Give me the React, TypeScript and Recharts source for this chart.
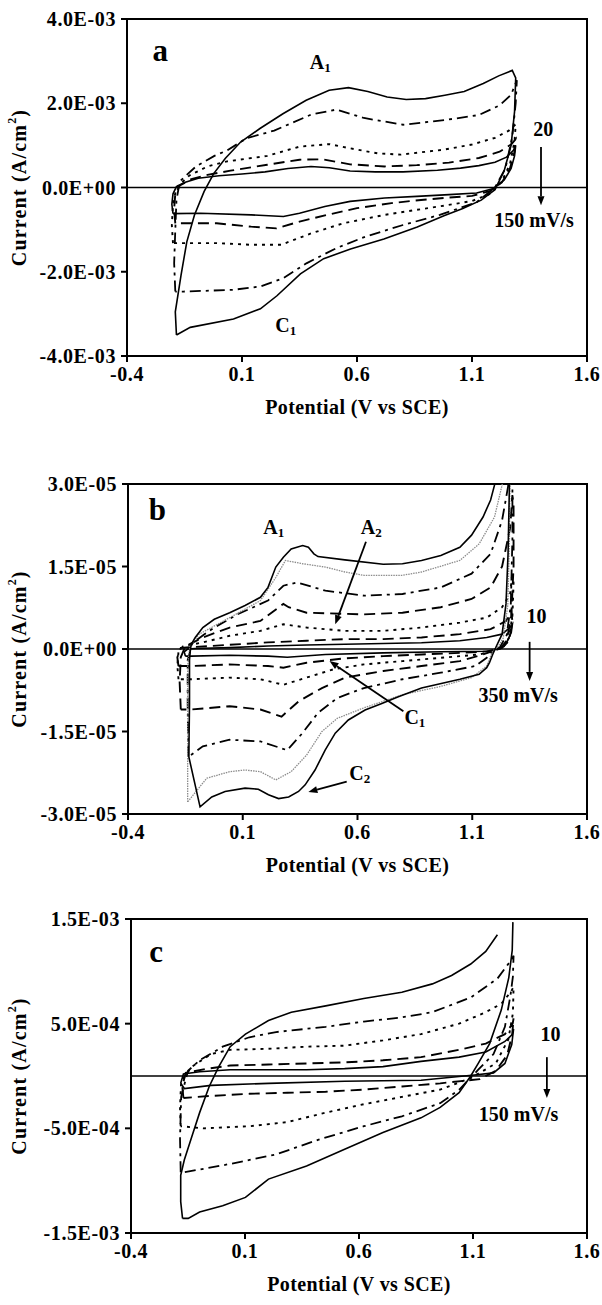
import React from "react";
import { LineChart, Line, XAxis, YAxis, ReferenceLine, ReferenceDot, ReferenceArea, Label } from "recharts";

type Pt = [number, number | null];

const potentialTicks = [-0.4, 0.1, 0.6, 1.1, 1.6];

// panel a: current in 1E-03 A/cm2, scan rates 20 -> 150 mV/s
const aTicks = [-4, -2, 0, 2, 4];
const aScan20: Pt[] = [
  [-0.2, -0.62], [-0.205, -0.4], [-0.2, -0.15], [-0.185, 0.02], [-0.15, 0.12], [-0.09, 0.22], [0.0, 0.28],
  [0.1, 0.32], [0.2, 0.37], [0.3, 0.45], [0.4, 0.5], [0.48, 0.47], [0.57, 0.39], [0.68, 0.37], [0.8, 0.37],
  [0.95, 0.41], [1.05, 0.46], [1.13, 0.52], [1.2, 0.6], [1.25, 0.72], [1.28, 0.88], [1.29, 1.0],
  [1.285, 0.75], [1.27, 0.45], [1.24, 0.18], [1.19, -0.03], [1.12, -0.13], [1.0, -0.17], [0.86, -0.21],
  [0.72, -0.25], [0.57, -0.33], [0.46, -0.45], [0.35, -0.61], [0.28, -0.69], [0.14, -0.65], [-0.08, -0.61], [-0.2, -0.62],
];
const aScan40: Pt[] = [
  [-0.19, -0.85], [-0.195, -0.5], [-0.19, -0.15], [-0.17, 0.05], [-0.12, 0.2], [-0.05, 0.3], [0.05, 0.4],
  [0.21, 0.54], [0.35, 0.66], [0.45, 0.67], [0.57, 0.55], [0.72, 0.5], [0.86, 0.53], [1.0, 0.59], [1.13, 0.7],
  [1.22, 0.85], [1.27, 1.02], [1.29, 1.15],
  [1.285, 0.85], [1.265, 0.45], [1.23, 0.12], [1.18, -0.08], [1.1, -0.2], [1.0, -0.24], [0.89, -0.29],
  [0.75, -0.37], [0.6, -0.49], [0.47, -0.65], [0.35, -0.81], [0.25, -0.97], [0.14, -0.93], [-0.01, -0.85], [-0.19, -0.85],
];
const aScan60: Pt[] = [
  [-0.2, -1.32], [-0.205, -0.9], [-0.2, -0.4], [-0.185, 0.0], [-0.13, 0.28], [-0.05, 0.5], [0.035, 0.62],
  [0.21, 0.75], [0.35, 0.97], [0.48, 1.03], [0.57, 0.93], [0.69, 0.81], [0.79, 0.78], [0.98, 0.9], [1.1, 1.02],
  [1.2, 1.18], [1.26, 1.35], [1.29, 1.5],
  [1.285, 1.1], [1.265, 0.55], [1.23, 0.15], [1.18, -0.15], [1.1, -0.32], [0.98, -0.43], [0.86, -0.53],
  [0.72, -0.65], [0.54, -0.85], [0.4, -1.09], [0.27, -1.36], [0.14, -1.36], [-0.01, -1.32], [-0.2, -1.32],
];
const aScan100: Pt[] = [
  [-0.19, -2.47], [-0.195, -1.8], [-0.19, -1.0], [-0.185, -0.3], [-0.17, 0.15], [-0.1, 0.5], [-0.02, 0.75],
  [0.035, 0.88], [0.12, 1.17], [0.24, 1.35], [0.4, 1.73], [0.51, 1.85], [0.63, 1.65], [0.8, 1.49], [0.98, 1.6],
  [1.13, 1.72], [1.22, 1.95], [1.27, 2.2], [1.295, 2.55],
  [1.29, 2.0], [1.275, 1.2], [1.245, 0.45], [1.2, 0.0], [1.12, -0.35], [0.96, -0.65], [0.8, -0.89],
  [0.64, -1.16], [0.51, -1.44], [0.38, -1.8], [0.28, -2.15], [0.18, -2.35], [0.06, -2.43], [-0.155, -2.47], [-0.19, -2.47],
];
const aScan150: Pt[] = [
  [-0.185, -3.5], [-0.19, -2.95], [-0.165, -2.08], [-0.14, -1.29], [-0.107, -0.66], [-0.065, -0.1], [-0.023, 0.33],
  [0.027, 0.69], [0.094, 1.08], [0.178, 1.4], [0.278, 1.75], [0.379, 2.07], [0.479, 2.31], [0.563, 2.37],
  [0.647, 2.28], [0.731, 2.15], [0.814, 2.09], [0.898, 2.11], [0.982, 2.19], [1.066, 2.28], [1.149, 2.47],
  [1.216, 2.65], [1.275, 2.78],
  [1.29, 2.6], [1.285, 1.8], [1.27, 1.0], [1.24, 0.4], [1.2, -0.05], [1.14, -0.3], [1.06, -0.5], [0.978, -0.67],
  [0.862, -0.94], [0.717, -1.22], [0.572, -1.46], [0.455, -1.69], [0.354, -2.05], [0.252, -2.57], [0.18, -2.88],
  [0.063, -3.12], [-0.125, -3.32], [-0.185, -3.5],
];

// panel b: current in 1E-06 A/cm2, scan rates 10 -> 350 mV/s
const bTicks = [-30, -15, 0, 15, 30];
const bScan10: Pt[] = [
  [-0.15, -1.3], [-0.155, -0.5], [-0.14, 0.0], [-0.107, 0.1], [0.043, 0.25], [0.21, 0.55], [0.378, 0.73],
  [0.545, 0.85], [0.712, 1.0], [0.879, 1.15], [1.046, 1.5], [1.163, 2.1], [1.23, 2.7], [1.264, 3.9], [1.275, 4.5],
  [1.27, 3.0], [1.25, 1.2], [1.22, 0.1], [1.163, -0.4], [0.963, -0.5], [0.712, -0.7], [0.46, -1.0], [0.294, -1.5],
  [0.21, -1.3], [0.043, -1.15], [-0.124, -1.3], [-0.15, -1.3],
];
const bScan20: Pt[] = [
  [-0.18, -3.1], [-0.185, -1.5], [-0.17, 0.2], [-0.04, 0.55], [0.21, 1.2], [0.378, 1.5], [0.545, 1.8],
  [0.712, 1.8], [0.879, 2.1], [1.046, 2.7], [1.18, 3.6], [1.247, 5.1], [1.27, 7.0],
  [1.275, 5.0], [1.26, 1.5], [1.23, 0.2], [1.18, -0.4], [1.046, -0.7], [0.879, -1.0], [0.712, -1.3],
  [0.545, -1.7], [0.378, -2.5], [0.277, -3.4], [0.21, -3.1], [0.043, -2.8], [-0.124, -3.1], [-0.18, -3.1],
];
const bScan50: Pt[] = [
  [-0.18, -5.5], [-0.185, -3.0], [-0.18, -0.5], [-0.16, 0.5], [-0.074, 1.2], [0.043, 2.4], [0.177, 3.3],
  [0.277, 4.5], [0.378, 3.9], [0.545, 3.3], [0.712, 3.3], [0.879, 3.9], [1.046, 4.8], [1.163, 5.7], [1.23, 7.6],
  [1.265, 10.0], [1.275, 14.0],
  [1.28, 12.0], [1.275, 6.0], [1.26, 2.0], [1.235, 0.3], [1.189, -0.4], [1.13, -1.0], [0.963, -1.6], [0.796, -2.2],
  [0.628, -2.8], [0.495, -3.7], [0.378, -5.2], [0.277, -6.5], [0.177, -5.5], [0.043, -5.2], [-0.124, -5.5], [-0.18, -5.5],
];
const bScan100: Pt[] = [
  [-0.17, -11.0], [-0.175, -6.0], [-0.17, -1.5], [-0.15, 0.5], [-0.074, 2.1], [0.043, 3.9], [0.177, 5.1],
  [0.277, 8.2], [0.3, 7.6], [0.378, 6.6], [0.46, 6.5], [0.628, 6.3], [0.796, 6.6], [0.963, 7.6], [1.097, 9.1],
  [1.18, 11.2], [1.23, 15.0], [1.265, 22.0], [1.275, 28.0],
  [1.28, 26.0], [1.28, 15.0], [1.27, 6.0], [1.25, 1.5], [1.22, 0.0], [1.189, -0.4], [1.147, -1.0], [1.046, -2.2],
  [0.879, -3.1], [0.712, -4.0], [0.545, -5.2], [0.445, -7.1], [0.344, -9.5], [0.269, -12.3], [0.177, -11.0],
  [0.043, -10.4], [-0.124, -11.0], [-0.17, -11.0],
];
const bScan200: Pt[] = [
  [-0.137, -19.6], [-0.14, -10.0], [-0.14, -2.0], [-0.12, 1.0], [-0.07, 2.6], [-0.024, 3.9], [0.077, 6.3],
  [0.21, 8.8], [0.277, 11.5], [0.336, 12.1], [0.46, 10.6], [0.628, 9.7], [0.796, 10.0], [0.963, 11.2],
  [1.097, 13.7], [1.18, 17.3], [1.23, 23.4], [1.256, 29.5], [1.265, 34.0],
  [1.275, 34.0], [1.275, 20.0], [1.268, 8.0], [1.25, 2.5], [1.22, 0.3], [1.189, -0.4], [1.163, -1.6],
  [1.113, -3.1], [0.963, -4.3], [0.796, -5.5], [0.628, -7.1], [0.512, -8.9], [0.428, -11.6], [0.36, -15.3],
  [0.294, -18.4], [0.177, -16.8], [0.043, -16.5], [-0.074, -17.7], [-0.137, -19.6],
];
const bScan300: Pt[] = [
  [-0.14, -27.8], [-0.14, -15.0], [-0.14, -3.0], [-0.13, 0.5], [-0.09, 2.7], [0.043, 5.7], [0.177, 8.8],
  [0.244, 13.0], [0.286, 16.1], [0.361, 15.5], [0.46, 14.9], [0.545, 14.0], [0.628, 13.4], [0.796, 13.4],
  [0.879, 14.0], [1.046, 16.1], [1.13, 19.1], [1.197, 24.0], [1.23, 29.8], [1.25, 36.0],
  [1.265, 36.0], [1.262, 20.0], [1.255, 8.0], [1.235, 2.0], [1.214, 0.5], [1.189, -0.4], [1.163, -3.1],
  [1.097, -5.2], [0.963, -6.8], [0.796, -8.3], [0.628, -10.7], [0.512, -12.6], [0.445, -15.0], [0.378, -19.3],
  [0.311, -22.3], [0.244, -23.8], [0.177, -22.3], [0.11, -22.0], [0.043, -22.3], [-0.057, -23.5], [-0.14, -27.8],
];
const bScan350: Pt[] = [
  [-0.135, -19.6], [-0.132, -10.0], [-0.132, -2.0], [-0.128, 0.0], [-0.124, 0.85], [-0.107, 2.1], [-0.074, 3.9],
  [-0.024, 5.4], [0.043, 6.6], [0.11, 7.9], [0.177, 9.4], [0.21, 11.2], [0.244, 14.9], [0.277, 16.7],
  [0.311, 18.2], [0.361, 18.8], [0.386, 18.5], [0.41, 17.3], [0.428, 16.8], [0.545, 16.2], [0.712, 15.4],
  [0.796, 15.5], [0.879, 16.1], [0.963, 17.0], [1.046, 18.5], [1.097, 20.7], [1.147, 24.0], [1.18, 27.1],
  [1.197, 29.8], [1.214, 32.6], [1.24, 38.0],
  [1.262, 36.0], [1.262, 29.8], [1.256, 17.3], [1.247, 8.2], [1.23, 2.7], [1.205, 0.5], [1.189, -1.0],
  [1.175, -2.5], [1.163, -3.4], [1.13, -4.6], [1.046, -5.5], [0.879, -7.1], [0.778, -8.7], [0.706, -9.9],
  [0.633, -11.1], [0.56, -12.9], [0.503, -15.3], [0.459, -18.4], [0.415, -22.0], [0.372, -24.7], [0.343, -25.9],
  [0.3, -26.9], [0.256, -27.2], [0.212, -26.5], [0.168, -25.5], [0.11, -25.3], [0.023, -25.9], [-0.035, -26.9],
  [-0.086, -28.7], [-0.135, -19.6],
];

// panel c: current in 1E-03 A/cm2, scan rates 10 -> 150 mV/s
const cTicks = [-1.5, -0.5, 0.5, 1.5];
const cScan10: Pt[] = [
  [-0.182, -0.07], [-0.17, 0.02], [-0.099, 0.04], [0.035, 0.06], [0.203, 0.06], [0.37, 0.06], [0.537, 0.07],
  [0.705, 0.09], [0.872, 0.14], [1.039, 0.18], [1.156, 0.23], [1.24, 0.33], [1.274, 0.4], [1.278, 0.45],
  [1.27, 0.3], [1.24, 0.12], [1.19, 0.03], [1.106, 0.01], [0.872, -0.04], [0.537, -0.05], [0.203, -0.07],
  [-0.049, -0.09], [-0.166, -0.12], [-0.182, -0.07],
];
const cScan40: Pt[] = [
  [-0.17, -0.21], [-0.175, -0.1], [-0.16, 0.03], [-0.065, 0.07], [0.035, 0.1], [0.203, 0.11], [0.37, 0.12],
  [0.537, 0.13], [0.705, 0.15], [0.872, 0.18], [1.039, 0.25], [1.156, 0.31], [1.24, 0.4], [1.274, 0.5], [1.278, 0.55],
  [1.272, 0.4], [1.25, 0.2], [1.2, 0.05], [1.13, -0.03], [0.956, -0.07], [0.788, -0.1], [0.621, -0.13],
  [0.454, -0.15], [0.286, -0.16], [0.119, -0.17], [-0.049, -0.19], [-0.17, -0.21],
];
const cScan60: Pt[] = [
  [-0.182, -0.48], [-0.185, -0.3], [-0.18, -0.05], [-0.132, 0.09], [-0.049, 0.21], [0.035, 0.25], [0.203, 0.26],
  [0.37, 0.28], [0.537, 0.29], [0.705, 0.34], [0.872, 0.4], [1.039, 0.5], [1.156, 0.61], [1.224, 0.69],
  [1.265, 0.8], [1.278, 0.85],
  [1.275, 0.6], [1.255, 0.35], [1.2, 0.12], [1.09, -0.02], [0.956, -0.13], [0.788, -0.2], [0.621, -0.27],
  [0.454, -0.35], [0.286, -0.44], [0.119, -0.48], [-0.082, -0.5], [-0.182, -0.48],
];
const cScan100: Pt[] = [
  [-0.182, -0.92], [-0.185, -0.6], [-0.18, -0.2], [-0.15, 0.05], [-0.099, 0.15], [0.002, 0.28], [0.119, 0.37],
  [0.236, 0.42], [0.454, 0.47], [0.621, 0.52], [0.788, 0.56], [0.922, 0.61], [1.09, 0.75], [1.207, 0.93],
  [1.265, 1.1], [1.278, 1.15],
  [1.275, 0.95], [1.265, 0.78], [1.24, 0.47], [1.19, 0.21], [1.123, 0.06], [1.04, -0.13], [0.956, -0.26],
  [0.788, -0.385], [0.621, -0.48], [0.42, -0.61], [0.236, -0.75], [0.035, -0.84], [-0.166, -0.92], [-0.182, -0.92],
];
const cScan150: Pt[] = [
  [-0.174, -1.36], [-0.182, -1.2], [-0.182, -0.95], [-0.166, -0.8], [-0.132, -0.57], [-0.099, -0.35],
  [-0.057, -0.1], [-0.015, 0.09], [0.035, 0.28], [0.102, 0.4], [0.203, 0.53], [0.303, 0.61], [0.454, 0.67],
  [0.621, 0.74], [0.788, 0.8], [0.922, 0.88], [1.006, 0.96], [1.09, 1.07], [1.156, 1.19], [1.207, 1.35],
  [1.24, null],
  [1.275, 1.47], [1.272, 1.2], [1.257, 0.94], [1.224, 0.63], [1.173, 0.31], [1.123, 0.12], [1.09, 0.0],
  [1.039, -0.16], [0.956, -0.3], [0.872, -0.4], [0.705, -0.54], [0.537, -0.7], [0.37, -0.86], [0.203, -0.985],
  [0.102, -1.16], [0.002, -1.24], [-0.099, -1.3], [-0.149, -1.36], [-0.174, -1.36],
];

const FONT = "'Liberation Serif', 'Times New Roman', serif";

const lineStyles: Record<string, any> = {
  solid: { stroke: "#000", strokeWidth: 1.6 },
  dash: { stroke: "#000", strokeWidth: 1.9, strokeDasharray: "11 6" },
  dot: { stroke: "#000", strokeWidth: 1.9, strokeDasharray: "3 5" },
  dashDot: { stroke: "#000", strokeWidth: 1.8, strokeDasharray: "11 5 3 5" },
  grey: { stroke: "#8c8c8c", strokeWidth: 1.3, strokeDasharray: "1.5 1" },
};

type Series = { name: string; pts: Pt[]; style: string };
type Note = { x: number; y: number; text: string; sub?: string; size?: number };
type Arrow = { from: [number, number]; to: [number, number] };

const toRows = (pts: Pt[]) => pts.map(([x, y]) => ({ x, y }));

function sci(v: number, unitExp: number) {
  const n = v * Math.pow(10, unitExp);
  if (Math.abs(n) < 1e-15) return "0.0E+00";
  const e = Math.floor(Math.log10(Math.abs(n)) + 1e-9);
  const m = n / Math.pow(10, e);
  return `${m.toFixed(1)}E${e < 0 ? "-" : "+"}${String(Math.abs(e)).padStart(2, "0")}`;
}

const tickStyle = { fontFamily: FONT, fontWeight: "bold", fontSize: 20, fill: "#000", letterSpacing: 0.6 };

const noteShape = (n: Note) => (p: any) => (
  <text
    x={p.cx}
    y={p.cy}
    textAnchor="middle"
    dominantBaseline="central"
    fontFamily={FONT}
    fontWeight="bold"
    fontSize={n.size ?? 20}
    fill="#000"
  >
    {n.text}
    {n.sub && (
      <tspan dy={5} fontSize={13}>
        {n.sub}
      </tspan>
    )}
  </text>
);

const arrowShape = (p: any) => {
  const { x1, y1, x2, y2 } = p;
  const ang = Math.atan2(y2 - y1, x2 - x1);
  const len = 9;
  const half = 3.5;
  const bx = x2 - len * Math.cos(ang);
  const by = y2 - len * Math.sin(ang);
  const nx = -Math.sin(ang) * half;
  const ny = Math.cos(ang) * half;
  return (
    <g>
      <line x1={x1} y1={y1} x2={bx} y2={by} stroke="#000" strokeWidth={1.8} />
      <polygon points={`${x2},${y2} ${bx + nx},${by + ny} ${bx - nx},${by - ny}`} fill="#000" />
    </g>
  );
};

type PanelProps = {
  top: number;
  plotHeight: number;
  axisWidth: number;
  yDomain: [number, number];
  yTicks: number[];
  unitExp: number;
  series: Series[];
  notes: Note[];
  arrows: Arrow[];
};

function Panel({ top, plotHeight, axisWidth, yDomain, yTicks, unitExp, series, notes, arrows }: PanelProps) {
  const height = 19 + plotHeight + 70;
  return (
    <div style={{ position: "absolute", left: 0, top }}>
      <LineChart width={602} height={height} margin={{ top: 19, right: 15, left: 0, bottom: 0 }}>
        <XAxis
          dataKey="x"
          type="number"
          domain={[-0.4, 1.6]}
          ticks={potentialTicks}
          interval={0}
          allowDataOverflow
          tickFormatter={(v: number) => v.toFixed(1)}
          height={70}
          stroke="#000"
          strokeWidth={2}
          tickSize={6}
          tickMargin={5}
          tick={tickStyle}
        >
          <Label
            content={(props: any) => {
              const vb = props.viewBox;
              return (
                <text
                  x={vb.x + vb.width / 2}
                  y={vb.y + 58}
                  textAnchor="middle"
                  fontFamily={FONT}
                  fontWeight="bold"
                  fontSize={20}
                  letterSpacing={0.4}
                  fill="#000"
                >
                  Potential (V vs SCE)
                </text>
              );
            }}
          />
        </XAxis>
        <YAxis
          type="number"
          domain={yDomain}
          ticks={yTicks}
          interval={0}
          allowDataOverflow
          width={axisWidth}
          tickFormatter={(v: number) => sci(v, unitExp)}
          stroke="#000"
          strokeWidth={2}
          tickSize={6}
          tickMargin={5}
          tick={tickStyle}
        >
          <Label
            content={(props: any) => {
              const vb = props.viewBox;
              const cx = 19;
              const cy = vb.y + vb.height / 2;
              return (
                <text
                  x={cx}
                  y={cy}
                  transform={`rotate(-90 ${cx} ${cy})`}
                  textAnchor="middle"
                  dominantBaseline="central"
                  fontFamily={FONT}
                  fontWeight="bold"
                  fontSize={20}
                  letterSpacing={1.2}
                  fill="#000"
                >
                  Current (A/cm
                  <tspan dy={-7} fontSize={12}>
                    2
                  </tspan>
                  <tspan dy={7}>)</tspan>
                </text>
              );
            }}
          />
        </YAxis>
        <ReferenceArea x1={-0.4} x2={1.6} y1={yDomain[0]} y2={yDomain[1]} fill="none" stroke="#000" strokeWidth={2} />
        <ReferenceLine y={0} stroke="#000" strokeWidth={1.5} />
        {series.map((s) => (
          <Line
            key={s.name}
            data={toRows(s.pts)}
            dataKey="y"
            type="linear"
            dot={false}
            activeDot={false}
            isAnimationActive={false}
            {...lineStyles[s.style]}
          />
        ))}
        {arrows.map((a, i) => (
          <ReferenceLine
            key={`arrow-${i}`}
            segment={[
              { x: a.from[0], y: a.from[1] },
              { x: a.to[0], y: a.to[1] },
            ]}
            shape={arrowShape}
          />
        ))}
        {notes.map((n, i) => (
          <ReferenceDot key={`note-${i}`} x={n.x} y={n.y} r={0} shape={noteShape(n)} />
        ))}
      </LineChart>
    </div>
  );
}

const aSeries: Series[] = [
  { name: "20", pts: aScan20, style: "solid" },
  { name: "40", pts: aScan40, style: "dash" },
  { name: "60", pts: aScan60, style: "dot" },
  { name: "100", pts: aScan100, style: "dashDot" },
  { name: "150", pts: aScan150, style: "solid" },
];
const bSeries: Series[] = [
  { name: "10", pts: bScan10, style: "solid" },
  { name: "20", pts: bScan20, style: "dash" },
  { name: "50", pts: bScan50, style: "dot" },
  { name: "100", pts: bScan100, style: "dash" },
  { name: "200", pts: bScan200, style: "dashDot" },
  { name: "300", pts: bScan300, style: "grey" },
  { name: "350", pts: bScan350, style: "solid" },
];
const cSeries: Series[] = [
  { name: "10", pts: cScan10, style: "solid" },
  { name: "40", pts: cScan40, style: "dash" },
  { name: "60", pts: cScan60, style: "dot" },
  { name: "100", pts: cScan100, style: "dashDot" },
  { name: "150", pts: cScan150, style: "solid" },
];

const aNotes: Note[] = [
  { x: -0.255, y: 3.25, text: "a", size: 31 },
  { x: 0.44, y: 2.98, text: "A", sub: "1" },
  { x: 0.29, y: -3.26, text: "C", sub: "1" },
  { x: 1.41, y: 1.4, text: "20" },
  { x: 1.37, y: -0.77, text: "150 mV/s" },
];
const aArrows: Arrow[] = [{ from: [1.4, 0.96], to: [1.4, -0.42] }];

const bNotes: Note[] = [
  { x: -0.272, y: 25.3, text: "b", size: 31 },
  { x: 0.235, y: 22.2, text: "A", sub: "1" },
  { x: 0.66, y: 22.2, text: "A", sub: "2" },
  { x: 0.85, y: -12.3, text: "C", sub: "1" },
  { x: 0.61, y: -22.5, text: "C", sub: "2" },
  { x: 1.38, y: 6.0, text: "10" },
  { x: 1.3, y: -8.3, text: "350 mV/s" },
];
const bArrows: Arrow[] = [
  { from: [0.637, 19.5], to: [0.503, 4.5] },
  { from: [0.8, -11.3], to: [0.478, -2.2] },
  { from: [0.553, -24.1], to: [0.386, -26.0] },
  { from: [1.35, 1.3], to: [1.35, -5.8] },
];

const cNotes: Note[] = [
  { x: -0.29, y: 1.19, text: "c", size: 31 },
  { x: 1.44, y: 0.4, text: "10" },
  { x: 1.3, y: -0.36, text: "150 mV/s" },
];
const cArrows: Arrow[] = [{ from: [1.424, 0.18], to: [1.424, -0.21] }];

export default function App() {
  return (
    <div style={{ position: "absolute", left: 0, top: 0, width: 602, height: 1305, background: "#fff" }}>
      <Panel top={0} plotHeight={337} axisWidth={127} yDomain={[-4, 4]} yTicks={aTicks} unitExp={-3} series={aSeries} notes={aNotes} arrows={aArrows} />
      <Panel top={465} plotHeight={330} axisWidth={128} yDomain={[-30, 30]} yTicks={bTicks} unitExp={-6} series={bSeries} notes={bNotes} arrows={bArrows} />
      <Panel top={900} plotHeight={314} axisWidth={131} yDomain={[-1.5, 1.5]} yTicks={cTicks} unitExp={-3} series={cSeries} notes={cNotes} arrows={cArrows} />
    </div>
  );
}
